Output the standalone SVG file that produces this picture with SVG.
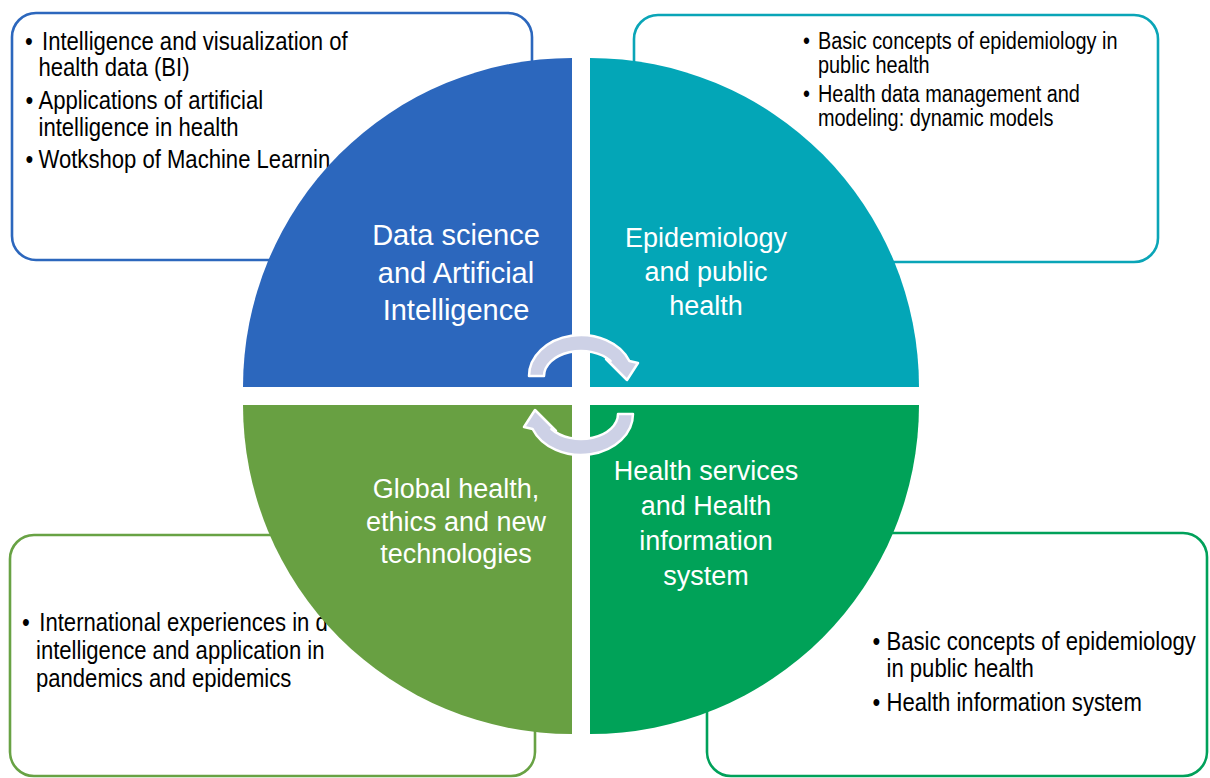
<svg xmlns="http://www.w3.org/2000/svg" width="1210" height="778" viewBox="0 0 1210 778">
  <style>
    .box { fill: #ffffff; stroke-width: 2.6; }
    .note { font-family: "Liberation Sans", Arial, sans-serif; font-size: 26px; fill: #000000; }
    .note-sm { font-family: "Liberation Sans", Arial, sans-serif; font-size: 23.4px; fill: #000000; }
    .label { font-family: "Liberation Sans", Arial, sans-serif; font-size: 27px; fill: #ffffff; text-anchor: middle; }
    .label-lg { font-size: 29px; }
    .cycle { fill: #cdd1e6; stroke: #ffffff; stroke-width: 2.5; stroke-linejoin: round; }
  </style>
  <defs>
    <!-- clockwise half-ring arrow, top half of the cycle -->
    <path id="half-ring" d="M529,376 A52,41 0 0 1 629.4,361 L638,363 L627,380 L606,359 L610.6,361 A37,25 0 0 0 544,376 Z"/>
  </defs>
  <rect width="1210" height="778" fill="#ffffff"/>

  <!-- detail boxes (sit behind the circle) -->
  <g id="box-data-science">
    <rect class="box" x="12" y="13" width="520" height="247" rx="24" stroke="#2c67bd"/>
    <text class="note" transform="matrix(0.85 0 0 1 25 0)" y="50">•</text>
    <text class="note" transform="matrix(0.85 0 0 1 42 0)" y="50">Intelligence and visualization of</text>
    <text class="note" transform="matrix(0.85 0 0 1 38.5 0)" y="76.5">health data (BI)</text>
    <text class="note" transform="matrix(0.85 0 0 1 25.5 0)" y="109">•</text>
    <text class="note" transform="matrix(0.85 0 0 1 38.5 0)" y="109">Applications of artificial</text>
    <text class="note" transform="matrix(0.85 0 0 1 38.5 0)" y="136">intelligence in health</text>
    <text class="note" transform="matrix(0.85 0 0 1 25.5 0)" y="168">•</text>
    <text class="note" transform="matrix(0.85 0 0 1 38.5 0)" y="168">Wotkshop of Machine Learnin</text>
  </g>

  <g id="box-epidemiology">
    <rect class="box" x="634" y="15" width="524" height="247" rx="24" stroke="#0aa5b7"/>
    <text class="note-sm" transform="matrix(0.85 0 0 1 803 0)" y="49">•</text>
    <text class="note-sm" transform="matrix(0.85 0 0 1 818 0)" y="49">Basic concepts of epidemiology in</text>
    <text class="note-sm" transform="matrix(0.85 0 0 1 818 0)" y="73">public health</text>
    <text class="note-sm" transform="matrix(0.85 0 0 1 803 0)" y="102">•</text>
    <text class="note-sm" transform="matrix(0.85 0 0 1 818 0)" y="102">Health data management and</text>
    <text class="note-sm" transform="matrix(0.85 0 0 1 818 0)" y="126">modeling: dynamic models</text>
  </g>

  <g id="box-global-health">
    <rect class="box" x="10" y="535" width="525" height="241" rx="24" stroke="#68a244"/>
    <text class="note" transform="matrix(0.85 0 0 1 22 0)" y="631.5">•</text>
    <text class="note" transform="matrix(0.85 0 0 1 39.3 0)" y="631.5">International experiences in d</text>
    <text class="note" transform="matrix(0.85 0 0 1 36 0)" y="659.5">intelligence and application in</text>
    <text class="note" transform="matrix(0.85 0 0 1 36 0)" y="687">pandemics and epidemics</text>
  </g>

  <g id="box-health-services">
    <rect class="box" x="707" y="533" width="500" height="243" rx="24" stroke="#00a15a"/>
    <text class="note" transform="matrix(0.85 0 0 1 872.5 0)" y="650">•</text>
    <text class="note" transform="matrix(0.85 0 0 1 886.5 0)" y="650">Basic concepts of epidemiology</text>
    <text class="note" transform="matrix(0.85 0 0 1 886.5 0)" y="677">in public health</text>
    <text class="note" transform="matrix(0.85 0 0 1 872.5 0)" y="711.5">•</text>
    <text class="note" transform="matrix(0.85 0 0 1 886.5 0)" y="711.5">Health information system</text>
  </g>

  <!-- the four quarter discs -->
  <g id="node-data-science">
    <path d="M572,387 L243,387 A329,329 0 0 1 572,58 Z" fill="#2c67bd"/>
    <text class="label label-lg" x="456" y="245">Data science</text>
    <text class="label label-lg" x="456" y="283">and Artificial</text>
    <text class="label label-lg" x="456" y="320">Intelligence</text>
  </g>

  <g id="node-epidemiology">
    <path d="M590,387 L590,58 A329,329 0 0 1 919,387 Z" fill="#03a6b7"/>
    <text class="label" x="706" y="247">Epidemiology</text>
    <text class="label" x="706" y="281">and public</text>
    <text class="label" x="706" y="315">health</text>
  </g>

  <g id="node-health-services">
    <path d="M590,405 L919,405 A329,329 0 0 1 590,734 Z" fill="#00a258"/>
    <text class="label" x="706" y="480">Health services</text>
    <text class="label" x="706" y="515">and Health</text>
    <text class="label" x="706" y="550">information</text>
    <text class="label" x="706" y="585">system</text>
  </g>

  <g id="node-global-health">
    <path d="M572,405 L572,734 A329,329 0 0 1 243,405 Z" fill="#68a042"/>
    <text class="label" x="456" y="498">Global health,</text>
    <text class="label" x="456" y="531">ethics and new</text>
    <text class="label" x="456" y="563">technologies</text>
  </g>

  <!-- cycle arrows in the centre -->
  <g id="connectors">
    <use href="#half-ring" class="cycle"/>
    <use href="#half-ring" class="cycle" transform="rotate(180 581 395)"/>
  </g>
</svg>
